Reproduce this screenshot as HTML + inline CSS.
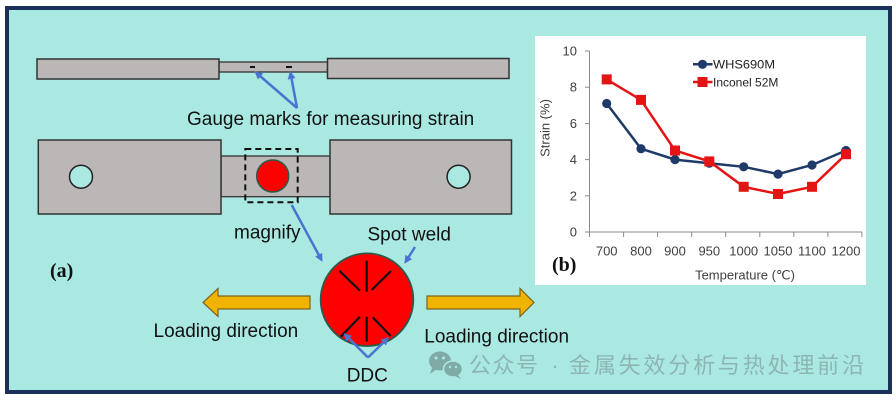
<!DOCTYPE html>
<html><head><meta charset="utf-8"><style>
html,body{margin:0;padding:0;background:#fff;}
svg{display:block;}
</style></head><body>
<svg width="896" height="400" viewBox="0 0 896 400" xmlns="http://www.w3.org/2000/svg">
<defs>
<marker id="ah" markerWidth="8" markerHeight="8" refX="6" refY="4" orient="auto" markerUnits="userSpaceOnUse" viewBox="0 0 8 8">
<path d="M0,0 L8,4 L0,8 Z" fill="#4a74d0"/>
</marker>
</defs>
<rect x="0" y="0" width="896" height="400" fill="#fff"/>
<rect x="7" y="8" width="883" height="384" fill="#aae8e2" stroke="#1c2f57" stroke-width="4"/>

<!-- top specimen -->
<rect x="219" y="62" width="108.5" height="10" fill="#bbb7b6" stroke="#333" stroke-width="1.3"/>
<rect x="37" y="59" width="182" height="20" fill="#bbb7b6" stroke="#333" stroke-width="1.5"/>
<rect x="327.5" y="58.5" width="181.5" height="20" fill="#bbb7b6" stroke="#333" stroke-width="1.5"/>
<line x1="250" y1="67" x2="255" y2="67" stroke="#111" stroke-width="2"/>
<line x1="286" y1="67" x2="292" y2="67" stroke="#111" stroke-width="2"/>
<g stroke="#4a74d0" stroke-width="2.5" fill="none">
<line x1="297" y1="108" x2="256" y2="72.5" marker-end="url(#ah)"/>
<line x1="297" y1="108" x2="290.5" y2="73" marker-end="url(#ah)"/>
</g>
<text x="187" y="125" font-family="Liberation Sans, Arial, sans-serif" font-size="19" fill="#111">Gauge marks for measuring strain</text>

<!-- bottom specimen -->
<rect x="221" y="156" width="109" height="40.7" fill="#bbb7b6" stroke="#333" stroke-width="1.3"/>
<rect x="38.3" y="140" width="182.7" height="74" fill="#bbb7b6" stroke="#333" stroke-width="1.5"/>
<rect x="330" y="140" width="181.5" height="74" fill="#bbb7b6" stroke="#333" stroke-width="1.5"/>
<circle cx="81" cy="176.7" r="11.5" fill="#aae8e2" stroke="#222" stroke-width="1.5"/>
<circle cx="458.6" cy="176.7" r="11.5" fill="#aae8e2" stroke="#222" stroke-width="1.5"/>
<circle cx="272.7" cy="176" r="16" fill="#ff0000" stroke="#2a5a4a" stroke-width="1.5"/>
<rect x="245.3" y="149" width="52.4" height="53.3" fill="none" stroke="#111" stroke-width="2" stroke-dasharray="6 4"/>

<!-- magnified weld -->
<g stroke="#4a74d0" stroke-width="2.5" fill="none">
<line x1="291.7" y1="205" x2="321.5" y2="260" marker-end="url(#ah)"/>
<line x1="415" y1="247" x2="405.5" y2="262" marker-end="url(#ah)"/>
</g>
<text x="234" y="238.5" font-family="Liberation Sans, Arial, sans-serif" font-size="19" fill="#111">magnify</text>
<text x="367.5" y="240.5" font-family="Liberation Sans, Arial, sans-serif" font-size="19" fill="#111">Spot weld</text>
<text x="50" y="277" font-family="Liberation Serif, Times New Roman, serif" font-weight="bold" font-size="20" fill="#111">(a)</text>

<polygon points="310,296 218,296 218,288.5 203,302.5 218,316.5 218,309 310,309" fill="#f0b400" stroke="#7a6420" stroke-width="1.2"/>
<polygon points="427,296 520,296 520,288.5 534,302.5 520,316.5 520,309 427,309" fill="#f0b400" stroke="#7a6420" stroke-width="1.2"/>

<circle cx="367" cy="299.7" r="46.3" fill="#ff0000" stroke="#2a5a4a" stroke-width="1.8"/>
<g stroke="#111" stroke-width="2.2">
<line x1="366.7" y1="260.7" x2="366.7" y2="291.7"/>
<line x1="339.3" y1="270.7" x2="360" y2="290.7"/>
<line x1="391" y1="271" x2="371.7" y2="290"/>
<line x1="366.7" y1="316.7" x2="366.7" y2="341.7"/>
<line x1="360" y1="316.7" x2="340.7" y2="336.7"/>
<line x1="372.7" y1="317.3" x2="390.7" y2="336"/>
</g>
<g stroke="#4a74d0" stroke-width="2.5" fill="none">
<line x1="368" y1="357.5" x2="345" y2="334.5" marker-end="url(#ah)"/>
<line x1="368" y1="357.5" x2="387.5" y2="338.5" marker-end="url(#ah)"/>
</g>
<text x="153.5" y="337" font-family="Liberation Sans, Arial, sans-serif" font-size="19" fill="#111">Loading direction</text>
<text x="424.3" y="342.3" font-family="Liberation Sans, Arial, sans-serif" font-size="19" fill="#111">Loading direction</text>
<text x="346.7" y="381.7" font-family="Liberation Sans, Arial, sans-serif" font-size="19" fill="#111">DDC</text>

<!-- chart panel -->
<rect x="535" y="36" width="331" height="249" fill="#fff"/>
<g stroke="#8a8a8a" stroke-width="1">
<line x1="589.5" y1="51" x2="589.5" y2="232"/>
<line x1="589.5" y1="232" x2="862" y2="232"/>
<line x1="585" y1="51" x2="589.5" y2="51"/>
<line x1="585" y1="87.2" x2="589.5" y2="87.2"/>
<line x1="585" y1="123.4" x2="589.5" y2="123.4"/>
<line x1="585" y1="159.6" x2="589.5" y2="159.6"/>
<line x1="585" y1="195.8" x2="589.5" y2="195.8"/>
<line x1="585" y1="232" x2="589.5" y2="232"/>
<line x1="589.5" y1="232" x2="589.5" y2="237"/>
<line x1="623.6" y1="232" x2="623.6" y2="237"/>
<line x1="657.6" y1="232" x2="657.6" y2="237"/>
<line x1="691.7" y1="232" x2="691.7" y2="237"/>
<line x1="725.7" y1="232" x2="725.7" y2="237"/>
<line x1="759.8" y1="232" x2="759.8" y2="237"/>
<line x1="793.8" y1="232" x2="793.8" y2="237"/>
<line x1="827.9" y1="232" x2="827.9" y2="237"/>
<line x1="861.9" y1="232" x2="861.9" y2="237"/>
</g>
<g font-family="Liberation Sans, Arial, sans-serif" font-size="13" fill="#404040" text-anchor="end">
<text x="577" y="55.5">10</text>
<text x="577" y="91.7">8</text>
<text x="577" y="127.9">6</text>
<text x="577" y="164.1">4</text>
<text x="577" y="200.3">2</text>
<text x="577" y="236.5">0</text>
</g>
<g font-family="Liberation Sans, Arial, sans-serif" font-size="13" fill="#404040" text-anchor="middle">
<text x="606.7" y="255.5">700</text>
<text x="641" y="255.5">800</text>
<text x="675" y="255.5">900</text>
<text x="709.3" y="255.5">950</text>
<text x="743.7" y="255.5">1000</text>
<text x="778" y="255.5">1050</text>
<text x="812" y="255.5">1100</text>
<text x="846" y="255.5">1200</text>
<text x="745" y="279.5">Temperature (℃)</text>
<text transform="translate(549.5,128) rotate(-90)">Strain (%)</text>
</g>
<text x="552" y="271" font-family="Liberation Serif, Times New Roman, serif" font-weight="bold" font-size="20" fill="#111">(b)</text>

<!-- series -->
<polyline points="606.7,103.5 641,148.7 675,159.6 709.3,163.2 743.7,166.8 778,174.1 812,165 846,150.5" fill="none" stroke="#1f3a68" stroke-width="2.5"/>
<polyline points="606.7,79.4 641,99.9 675,150.5 709.3,161.4 743.7,186.8 778,194 812,186.8 846,154.2" fill="none" stroke="#e51414" stroke-width="2.5"/>
<g fill="#1f3a68">
<circle cx="606.7" cy="103.5" r="4.6"/>
<circle cx="641" cy="148.7" r="4.6"/>
<circle cx="675" cy="159.6" r="4.6"/>
<circle cx="709.3" cy="163.2" r="4.6"/>
<circle cx="743.7" cy="166.8" r="4.6"/>
<circle cx="778" cy="174.1" r="4.6"/>
<circle cx="812" cy="165" r="4.6"/>
<circle cx="846" cy="150.5" r="4.6"/>
</g>
<g fill="#e51414">
<rect x="601.7" y="74.4" width="10" height="10"/>
<rect x="636" y="94.9" width="10" height="10"/>
<rect x="670" y="145.5" width="10" height="10"/>
<rect x="704.3" y="156.4" width="10" height="10"/>
<rect x="738.7" y="181.8" width="10" height="10"/>
<rect x="773" y="189" width="10" height="10"/>
<rect x="807" y="181.8" width="10" height="10"/>
<rect x="841" y="149.2" width="10" height="10"/>
</g>
<!-- legend -->
<line x1="693" y1="64.3" x2="712.5" y2="64.3" stroke="#1f3a68" stroke-width="2.5"/>
<circle cx="702.5" cy="64.3" r="4.6" fill="#1f3a68"/>
<line x1="693" y1="82" x2="712.5" y2="82" stroke="#e51414" stroke-width="2.5"/>
<rect x="697.5" y="77" width="10" height="10" fill="#e51414"/>
<g font-family="Liberation Sans, Arial, sans-serif" font-size="12" fill="#222">
<text x="713" y="68.5" textLength="62" lengthAdjust="spacingAndGlyphs">WHS690M</text>
<text x="713" y="86.3">Inconel 52M</text>
</g>

<!-- watermark -->
<g fill="#80aaa6">
<ellipse cx="440" cy="361" rx="11" ry="9.5"/>
<path d="M432,368 L430,374 L437,369 Z"/>
</g>
<ellipse cx="453" cy="369" rx="9.5" ry="8" fill="#80aaa6" stroke="#aae8e2" stroke-width="1.5"/>
<path d="M458,375 L461,379 L455,376 Z" fill="#80aaa6"/>
<g fill="#aae8e2">
<circle cx="436" cy="358" r="1.5"/>
<circle cx="443.5" cy="358" r="1.5"/>
<circle cx="450" cy="367" r="1.2"/>
<circle cx="456" cy="367" r="1.2"/>
</g>
<g font-family="Liberation Sans, 'Noto Sans CJK SC', sans-serif" font-size="22" fill="#8db5b1">
<text x="469" y="373" textLength="69" lengthAdjust="spacing">公众号</text>
<text x="555" y="373" text-anchor="middle">·</text>
<text x="569" y="373" textLength="295" lengthAdjust="spacing">金属失效分析与热处理前沿</text>
</g>
</svg>
</body></html>
